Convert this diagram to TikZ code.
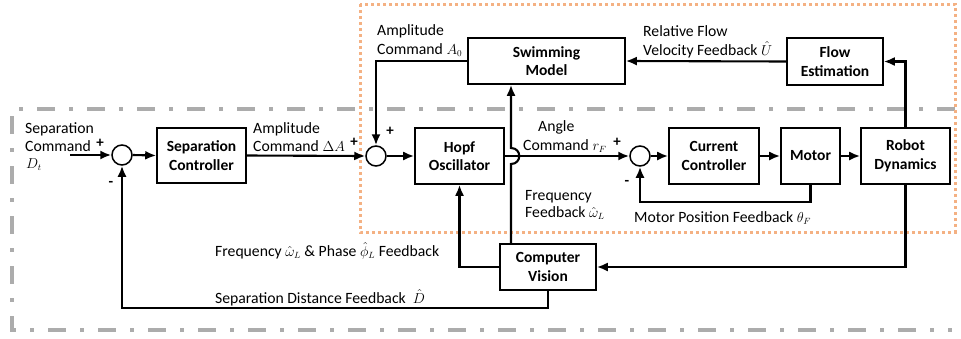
\documentclass[tikz,border=0pt]{standalone}
\usepackage{fontspec}
\setmainfont{Carlito}
\usetikzlibrary{arrows.meta}
\definecolor{orng}{RGB}{244,177,131}
\definecolor{grayfr}{RGB}{172,172,172}
\newcommand{\mymth}[1]{{\fontsize{13.5}{18}\selectfont$#1$}}
\begin{document}
\begin{tikzpicture}[x=1pt,y=-1pt,
  every node/.style={font=\fontsize{15.7}{18.5}\selectfont},
  blk/.style={draw, line width=1.6pt, align=center, inner sep=0pt, font=\fontsize{15.5}{18.5}\selectfont\bfseries},
  sumc/.style={draw, circle, line width=1.5pt, minimum size=20pt, inner sep=0pt},
  conn/.style={line width=2.1pt, -{Latex[length=11pt,width=9pt]}},
  lbl/.style={anchor=base west, inner sep=0pt},
  sgn/.style={inner sep=0pt, font=\fontsize{15}{18}\selectfont\bfseries}]
\useasboundingbox (0,0) rectangle (961,338);
% frames
\draw[grayfr, line width=4pt, dash pattern=on 18pt off 14pt on 4pt off 14pt] (955,109) -- (12,109) -- (12,330) -- (952,330);
\draw[orng, line width=3pt, dash pattern=on 3pt off 3pt] (360,4) rectangle (955,232);
% blocks
\node[blk, minimum width=89pt, minimum height=55pt] (sep) at (201.5,155.5) {Separation\\Controller};
\node[blk, minimum width=89pt, minimum height=56pt] (hopf) at (459.5,156) {Hopf\\Oscillator};
\node[blk, minimum width=157pt, minimum height=46pt] (swim) at (546.5,61) {Swimming\\Model};
\node[blk, minimum width=96pt, minimum height=47pt] (flow) at (835,61.5) {Flow\\Estimation};
\node[blk, minimum width=90pt, minimum height=56pt] (cc) at (714,156) {Current\\Controller};
\node[blk, minimum width=59pt, minimum height=56pt] (motor) at (810.5,156) {Motor};
\node[blk, minimum width=89pt, minimum height=56pt] (robot) at (905.5,156) {Robot\\Dynamics};
\node[blk, minimum width=96pt, minimum height=46pt] (cv) at (548,267) {Computer\\Vision};
% summing junctions
\node[sumc] (s1) at (122,155) {};
\node[sumc] (s2) at (376,156) {};
\node[sumc] (s3) at (640,156) {};
% helper coordinates
\coordinate (din) at (70,155);
\coordinate (jb) at (511,164);
\coordinate (jt) at (511,148);
\coordinate (mfb) at (811,202);
\coordinate (sdf) at (548,308);
% connectors
\draw[conn] (din) -- (s1.west);
\draw[conn] (s1.east) -- (sep.west);
\draw[conn] (sep.east) -- (s2.west);
\draw[conn] (s2.east) -- (hopf.west);
\draw[conn] (hopf.east) -- (s3.west);
\draw[conn] (s3.east) -- (cc.west);
\draw[conn] (cc.east) -- (motor.west);
\draw[conn] (motor.east) -- (robot.west);
\draw[conn] (swim.west) -| (s2.north);
\draw[conn] (flow.west) -- (swim.east);
\draw[conn] (robot.north) |- (flow.east);
\draw[conn] (motor.south) |- (mfb -| s3) -- (s3.south);
\draw[conn] (robot.south) |- (cv.east);
\draw[conn] (cv.west) -| (hopf.south);
\draw[conn] (cv.south) |- (sdf -| s1) -- (s1.south);
\draw[conn] (cv.north -| jb) -- (jb) .. controls (522,164) and (522,148) .. (jt) -- (swim.south -| jt);
% labels
\node[lbl] (l1a) at (25,133) {Separation};
\node[lbl] (l1b) at (25,151) {Command};
\node[lbl] (l1c) at (26,168) {\mymth{D_t}};
\node[sgn] (p1) at (100,143) {+};
\node[sgn] (m1) at (111,184) {-};
\node[lbl] (l2a) at (253,133) {Amplitude};
\node[lbl] (l2b) at (253,151) {Command \mymth{\Delta A}};
\node[sgn] (p2) at (354,142) {+};
\node[sgn] (p3) at (390,131) {+};
\node[lbl] (l3a) at (377,35) {Amplitude};
\node[lbl] (l3b) at (377,54) {Command \mymth{A_0}};
\node[lbl] (l4a) at (538,131) {Angle};
\node[lbl] (l4b) at (523,150) {Command \mymth{r_F}};
\node[sgn] (p4) at (617,142) {+};
\node[sgn] (m4) at (627,183) {-};
\node[lbl] (l5a) at (525,200) {Frequency};
\node[lbl] (l5b) at (525,217) {Feedback \mymth{\hat{\omega}_L}};
\node[lbl] (l6) at (634,222) {Motor Position Feedback \mymth{\theta_F}};
\node[lbl] (l7a) at (643,36) {Relative Flow};
\node[lbl] (l7b) at (643,55) {Velocity Feedback \mymth{\hat{U}}};
\node[lbl] (l8) at (215,256) {Frequency \mymth{\hat{\omega}_L} \& Phase \mymth{\hat{\phi}_L} Feedback};
\node[lbl] (l9) at (215,303) {Separation Distance Feedback \ \mymth{\hat{D}}};
\end{tikzpicture}
\end{document}
